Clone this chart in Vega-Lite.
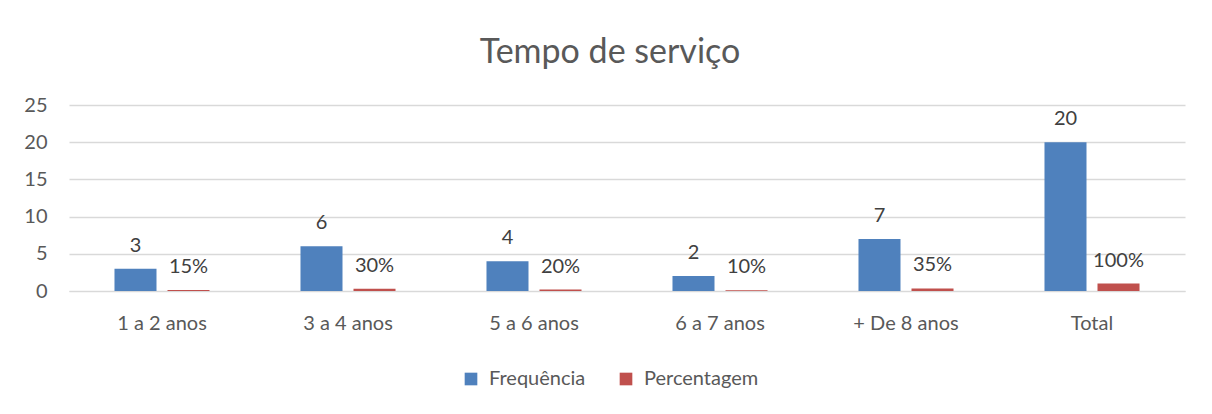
{
  "$schema": "https://vega.github.io/schema/vega-lite/v6.json",
  "width": 1116,
  "height": 186,
  "autosize": {"type": "none"},
  "padding": {"left": 69, "top": 105, "right": 27, "bottom": 123},
  "background": "white",
  "title": {"text": "Tempo de serviço", "fontSize": 34, "font": "Lato", "fontWeight": "normal", "color": "#595959", "anchor": "middle", "offset": 25, "dx": -17},
  "data": {"values": [
    {"categoria": "1 a 2 anos", "serie": "Frequência", "valor": 3, "rotulo": "3"},
    {"categoria": "1 a 2 anos", "serie": "Percentagem", "valor": 0.15, "rotulo": "15%"},
    {"categoria": "3 a 4 anos", "serie": "Frequência", "valor": 6, "rotulo": "6"},
    {"categoria": "3 a 4 anos", "serie": "Percentagem", "valor": 0.30, "rotulo": "30%"},
    {"categoria": "5 a 6 anos", "serie": "Frequência", "valor": 4, "rotulo": "4"},
    {"categoria": "5 a 6 anos", "serie": "Percentagem", "valor": 0.20, "rotulo": "20%"},
    {"categoria": "6 a 7 anos", "serie": "Frequência", "valor": 2, "rotulo": "2"},
    {"categoria": "6 a 7 anos", "serie": "Percentagem", "valor": 0.10, "rotulo": "10%"},
    {"categoria": "+ De 8 anos", "serie": "Frequência", "valor": 7, "rotulo": "7"},
    {"categoria": "+ De 8 anos", "serie": "Percentagem", "valor": 0.35, "rotulo": "35%"},
    {"categoria": "Total", "serie": "Frequência", "valor": 20, "rotulo": "20"},
    {"categoria": "Total", "serie": "Percentagem", "valor": 1.0, "rotulo": "100%"}
  ]},
  "encoding": {
    "x": {"field": "categoria", "type": "nominal", "sort": null,
          "scale": {"paddingInner": 0, "paddingOuter": 0},
          "axis": {"title": null, "labelAngle": 0, "labelFontSize": 20, "labelFont": "Lato", "labelColor": "#595959", "labelPadding": 22, "ticks": false, "domain": true, "domainColor": "#d9d9d9", "grid": false}},
    "xOffset": {"field": "serie", "type": "nominal", "sort": ["Frequência", "Percentagem"],
                "scale": {"paddingInner": 0.2075, "paddingOuter": 0.858}},
    "y": {"field": "valor", "type": "quantitative",
          "scale": {"domain": [0, 25], "nice": false},
          "axis": {"title": null, "values": [0, 5, 10, 15, 20, 25], "labelFontSize": 20, "labelFont": "Lato", "labelColor": "#595959", "labelPadding": 22, "ticks": false, "domain": false, "gridColor": "#d9d9d9", "gridWidth": 1.3}}
  },
  "layer": [
    {"mark": {"type": "bar"},
     "encoding": {
       "color": {"field": "serie", "type": "nominal", "sort": ["Frequência", "Percentagem"],
                 "scale": {"domain": ["Frequência", "Percentagem"], "range": ["#4f81bd", "#c0504d"]},
                 "legend": {"title": null, "orient": "none", "legendX": 392, "legendY": 264, "direction": "horizontal", "symbolType": "square", "symbolSize": 160, "labelFontSize": 20, "labelFont": "Lato", "labelColor": "#595959", "labelOffset": 8, "columnPadding": 30, "symbolStrokeWidth": 0}}
     }},
    {"mark": {"type": "text", "baseline": "alphabetic", "dy": -17, "fontSize": 20, "font": "Lato", "color": "#404040"},
     "encoding": {"text": {"field": "rotulo"}}}
  ],
  "config": {"view": {"stroke": null}}
}
